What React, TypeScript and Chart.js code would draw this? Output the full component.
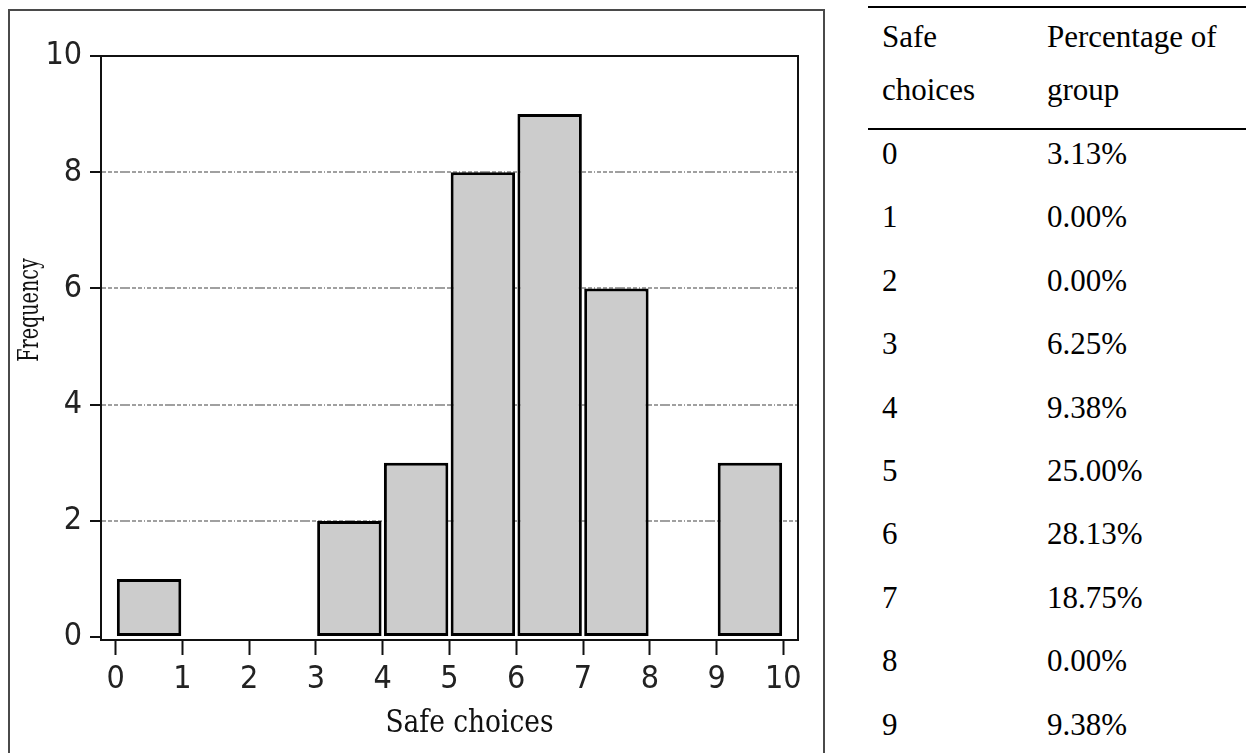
import React, { useEffect, useRef } from "react";
import { Chart, registerables } from "chart.js";

Chart.register(...registerables);

// ---- data ----
const binStarts = [0, 1, 2, 3, 4, 5, 6, 7, 8, 9];
const frequencies = [1, 0, 0, 2, 3, 8, 9, 6, 0, 3];
const xTickValues = [0, 1, 2, 3, 4, 5, 6, 7, 8, 9, 10];
const yTickValues = [0, 2, 4, 6, 8, 10];
const xAxisTitle = "Safe choices";
const yAxisTitle = "Frequency";

const tableHeaderCol1 = ["Safe", "choices"];
const tableHeaderCol2 = ["Percentage of", "group"];
const tableSafeChoices = ["0", "1", "2", "3", "4", "5", "6", "7", "8", "9"];
const tablePercentages = [
  "3.13%",
  "0.00%",
  "0.00%",
  "6.25%",
  "9.38%",
  "25.00%",
  "28.13%",
  "18.75%",
  "0.00%",
  "9.38%",
];

const tickFont = {
  family: "'Liberation Sans Narrow', 'DejaVu Sans Condensed', 'Roboto Condensed', Roboto, sans-serif",
  size: 32,
  lineHeight: 1,
};
const titleFamily = "'DejaVu Serif Condensed', 'DejaVu Serif', serif";

const framePlugin = {
  id: "frame",
  afterDraw(chart: any) {
    const { ctx, chartArea: a } = chart;
    ctx.save();
    ctx.strokeStyle = "#111";
    ctx.lineWidth = 2;
    ctx.strokeRect(a.left, a.top, a.right - a.left, a.bottom - a.top);
    ctx.restore();
  },
};

// axis titles (narrow, tall lettering), placed relative to the chart area
const axisTitlePlugin = {
  id: "axisTitles",
  afterDraw(chart: any) {
    const { ctx, chartArea: a } = chart;
    ctx.save();
    ctx.fillStyle = "#111";
    ctx.textAlign = "center";
    ctx.textBaseline = "middle";

    ctx.save();
    ctx.translate((a.left + a.right) / 2 + 20, a.bottom + 84);
    ctx.scale(0.92, 1);
    ctx.font = `32px ${titleFamily}`;
    ctx.fillText(xAxisTitle, 0, 0);
    ctx.restore();

    ctx.save();
    ctx.translate(a.left - 70, (a.top + a.bottom) / 2 - 38);
    ctx.rotate(-Math.PI / 2);
    ctx.scale(0.76, 1);
    ctx.font = `28px ${titleFamily}`;
    ctx.fillText(yAxisTitle, 0, 0);
    ctx.restore();

    ctx.restore();
  },
};

export default function App() {
  const canvasRef = useRef<HTMLCanvasElement | null>(null);

  useEffect(() => {
    document.body.style.margin = "0";
    const canvas = canvasRef.current;
    if (!canvas) return;
    const chart = new Chart(canvas, {
      type: "bar",
      data: {
        datasets: [
          {
            data: binStarts.map((b, i) => ({ x: b + 0.5, y: frequencies[i] })),
            backgroundColor: "#cccccc",
            borderColor: "#000000",
            borderWidth: 3,
            borderSkipped: false,
            inflateAmount: 0,
            barPercentage: 0.965,
            categoryPercentage: 1,
          } as any,
        ],
      },
      options: {
        responsive: false,
        animation: false,
        devicePixelRatio: 1,
        layout: { padding: { left: 0, right: 28, top: 56, bottom: 0 } },
        plugins: {
          legend: { display: false },
          tooltip: { enabled: false },
        },
        scales: {
          x: {
            type: "linear",
            offset: false,
            min: -0.22,
            max: 10.22,
            afterBuildTicks: (s: any) => {
              s.ticks = xTickValues.map((v) => ({ value: v }));
            },
            afterFit: (s: any) => {
              s.height = 113;
            },
            grid: {
              offset: false,
              drawOnChartArea: false,
              drawTicks: true,
              tickLength: 15,
              tickWidth: 2,
              tickColor: "#111",
            },
            border: { display: true, color: "#111", width: 2 },
            ticks: {
              font: tickFont,
              color: "#222",
              padding: 9,
              maxRotation: 0,
              autoSkip: false,
            },
            title: { display: false },
          },
          y: {
            type: "linear",
            min: -0.05,
            max: 10,
            afterBuildTicks: (s: any) => {
              s.ticks = yTickValues.map((v) => ({ value: v }));
            },
            afterFit: (s: any) => {
              s.width = 101;
            },
            grid: {
              color: (ctx: any) =>
                ctx.tick && (ctx.tick.value === 0 || ctx.tick.value === 10)
                  ? "rgba(0,0,0,0)"
                  : "#a0a0a0",
              lineWidth: 2,
              tickLength: 11,
              tickWidth: 2,
              tickColor: "#111",
            },
            border: {
              display: true,
              color: "#111",
              width: 2,
              dash: [4, 2, 4, 2, 4, 2, 10, 2, 4, 2, 4, 2, 1, 2],
            },
            ticks: {
              font: tickFont,
              color: "#222",
              padding: 8,
            },
            title: { display: false },
          },
        },
      } as any,
      plugins: [framePlugin, axisTitlePlugin],
    });
    return () => chart.destroy();
  }, []);

  const cellFont = "'Liberation Serif', 'Times New Roman', serif";
  const bodyCell = {
    padding: "4px 0 19.4px 14px",
    lineHeight: "40px",
    verticalAlign: "top",
  } as const;

  return (
    <div
      style={{
        position: "relative",
        width: 1246,
        height: 753,
        overflow: "hidden",
        background: "#ffffff",
      }}
    >
      <canvas
        ref={canvasRef}
        width={826}
        height={753}
        style={{ position: "absolute", left: 0, top: 0 }}
      />
      <div
        style={{
          position: "absolute",
          left: 8,
          top: 9,
          width: 817,
          height: 780,
          border: "2px solid #4a4a4a",
          boxSizing: "border-box",
          pointerEvents: "none",
        }}
      />
      <table
        style={{
          position: "absolute",
          left: 868,
          top: 6,
          width: 378,
          borderCollapse: "collapse",
          tableLayout: "fixed",
          fontFamily: cellFont,
          fontSize: 31,
          color: "#000",
        }}
      >
        <colgroup>
          <col style={{ width: 165 }} />
          <col style={{ width: 213 }} />
        </colgroup>
        <thead>
          <tr style={{ borderTop: "2px solid #000", borderBottom: "2px solid #000" }}>
            {[tableHeaderCol1, tableHeaderCol2].map((lines, i) => (
              <th
                key={i}
                style={{
                  textAlign: "left",
                  fontWeight: "normal",
                  verticalAlign: "top",
                  padding: "2px 0 12px 14px",
                  lineHeight: "53px",
                  whiteSpace: "nowrap",
                }}
              >
                {lines[0]}
                <br />
                {lines[1]}
              </th>
            ))}
          </tr>
        </thead>
        <tbody>
          {tableSafeChoices.map((s, i) => (
            <tr key={s}>
              <td style={bodyCell}>{s}</td>
              <td style={bodyCell}>{tablePercentages[i]}</td>
            </tr>
          ))}
        </tbody>
      </table>
    </div>
  );
}
